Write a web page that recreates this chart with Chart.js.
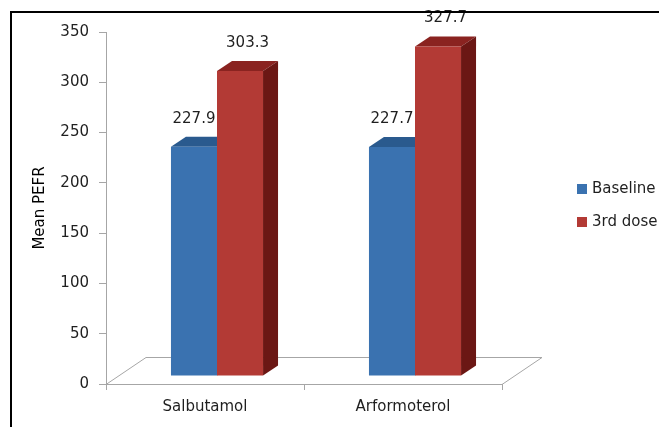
<!DOCTYPE html>
<html>
<head>
<meta charset="utf-8">
<script src="https://cdn.jsdelivr.net/npm/chart.js@4/dist/chart.umd.min.js"></script>
<style>
  html, body { margin: 0; padding: 0; background: #fff; overflow: hidden; }
  #wrap { position: relative; width: 659px; height: 427px; }
  #frame {
    position: absolute; left: 10px; top: 11px; width: 700px; height: 500px;
    border-top: 2px solid #000; border-left: 2px solid #000;
    box-sizing: border-box; pointer-events: none;
  }
  canvas { position: absolute; left: 0; top: 0; }
</style>
</head>
<body>
<div id="wrap">
  <canvas id="chart" width="659" height="427"></canvas>
  <div id="frame"></div>
</div>
<script>
// Mean PEFR per drug, before treatment and after the 3rd dose
const categories = ['Salbutamol', 'Arformoterol'];
const seriesNames = ['Baseline', '3rd dose'];
const baselineValues = [227.9, 227.7];
const thirdDoseValues = [303.3, 327.7];
const yMin = 0;
const yMax = 350;
const yStep = 50;

// Colours for the faces of each 3-D column: front, top, side
const faceColors = [
  { front: '#3a72b0', top: '#2a5a8e', side: '#214a78' },
  { front: '#b33a35', top: '#8a2320', side: '#6b1714' }
];

const FONT = 'DejaVu Sans';
const TEXT = '#1f1f1f';
const AXIS = '#a6a6a6';

// Pseudo-3D look: bars sit part way back on the floor, each bar is extruded
const barShift = { x: 12, y: 8 };
const barDepth = { x: 15, y: 10 };
const floorDepth = { x: 40, y: 27 };

const threeD = {
  id: 'threeD',
  beforeDatasetsDraw(chart) {
    const ctx = chart.ctx;
    const area = chart.chartArea;
    const y0 = chart.scales.y.getPixelForValue(0);

    // floor outline
    ctx.save();
    ctx.strokeStyle = AXIS;
    ctx.lineWidth = 1;
    ctx.beginPath();
    ctx.moveTo(area.left, y0 + 0.5);
    ctx.lineTo(area.left + floorDepth.x, y0 - floorDepth.y + 0.5);
    ctx.lineTo(area.right + floorDepth.x, y0 - floorDepth.y + 0.5);
    ctx.lineTo(area.right, y0 + 0.5);
    ctx.stroke();
    ctx.restore();

    // bars are drawn in a plane set back from the front edge
    ctx.save();
    ctx.translate(barShift.x, -barShift.y);
    chart.data.datasets.forEach((ds, di) => {
      const meta = chart.getDatasetMeta(di);
      const col = faceColors[di];
      meta.data.forEach(bar => {
        const { x, y, base, width } = bar.getProps(['x', 'y', 'base', 'width'], true);
        const x0 = x - width / 2, x1 = x + width / 2;
        ctx.fillStyle = col.top;
        ctx.beginPath();
        ctx.moveTo(x0, y);
        ctx.lineTo(x1, y);
        ctx.lineTo(x1 + barDepth.x, y - barDepth.y);
        ctx.lineTo(x0 + barDepth.x, y - barDepth.y);
        ctx.closePath();
        ctx.fill();
        ctx.fillStyle = col.side;
        ctx.beginPath();
        ctx.moveTo(x1, y);
        ctx.lineTo(x1 + barDepth.x, y - barDepth.y);
        ctx.lineTo(x1 + barDepth.x, base - barDepth.y);
        ctx.lineTo(x1, base);
        ctx.closePath();
        ctx.fill();
      });
    });
  },
  afterDatasetsDraw(chart) {
    const ctx = chart.ctx;
    // value labels above each column
    ctx.font = '15px "' + FONT + '"';
    ctx.fillStyle = TEXT;
    ctx.textAlign = 'center';
    ctx.textBaseline = 'middle';
    chart.data.datasets.forEach((ds, di) => {
      const meta = chart.getDatasetMeta(di);
      meta.data.forEach((bar, i) => {
        const { x, y } = bar.getProps(['x', 'y'], true);
        const lx = x + (di === 1 ? barDepth.x / 2 : 0);
        ctx.fillText(ds.data[i].toFixed(1), lx, y - 28);
      });
    });
    ctx.restore();
  },
  afterDraw(chart) {
    // legend on the right
    const ctx = chart.ctx;
    ctx.save();
    ctx.font = '15px "' + FONT + '"';
    ctx.textAlign = 'left';
    ctx.textBaseline = 'middle';
    chart.data.datasets.forEach((ds, di) => {
      const cy = 189 + di * 33;
      ctx.fillStyle = ds.backgroundColor;
      ctx.fillRect(577, cy - 5, 10, 10);
      ctx.fillStyle = TEXT;
      ctx.fillText(ds.label, 592, cy);
    });
    ctx.restore();
  }
};

new Chart(document.getElementById('chart'), {
  type: 'bar',
  data: {
    labels: categories,
    datasets: [
      { label: seriesNames[0], data: baselineValues, backgroundColor: faceColors[0].front },
      { label: seriesNames[1], data: thirdDoseValues, backgroundColor: faceColors[1].front }
    ]
  },
  options: {
    responsive: false,
    devicePixelRatio: 1,
    animation: false,
    categoryPercentage: 0.465,
    barPercentage: 1.0,
    layout: { padding: { top: 32, right: 157, bottom: 0, left: 0 } },
    plugins: { legend: { display: false }, tooltip: { enabled: false } },
    scales: {
      x: {
        offset: true,
        grid: { offset: true, drawOnChartArea: false, drawTicks: true, tickLength: 6, color: AXIS },
        border: { display: true, color: AXIS },
        ticks: { color: TEXT, font: { family: FONT, size: 15 }, padding: 8, maxRotation: 0 },
        afterFit(scale) { scale.height = 43; }
      },
      y: {
        min: yMin,
        max: yMax,
        grid: { drawOnChartArea: false, drawTicks: true, tickLength: 7, color: AXIS },
        border: { display: true, color: AXIS },
        ticks: { stepSize: yStep, color: TEXT, font: { family: FONT, size: 15 }, padding: 10 },
        title: {
          display: true, text: 'Mean PEFR', color: '#000',
          font: { family: FONT, size: 15 }, padding: { top: 31, bottom: 0 }
        },
        afterFit(scale) { scale.width = 106; }
      }
    }
  },
  plugins: [threeD]
});
</script>
</body>
</html>
